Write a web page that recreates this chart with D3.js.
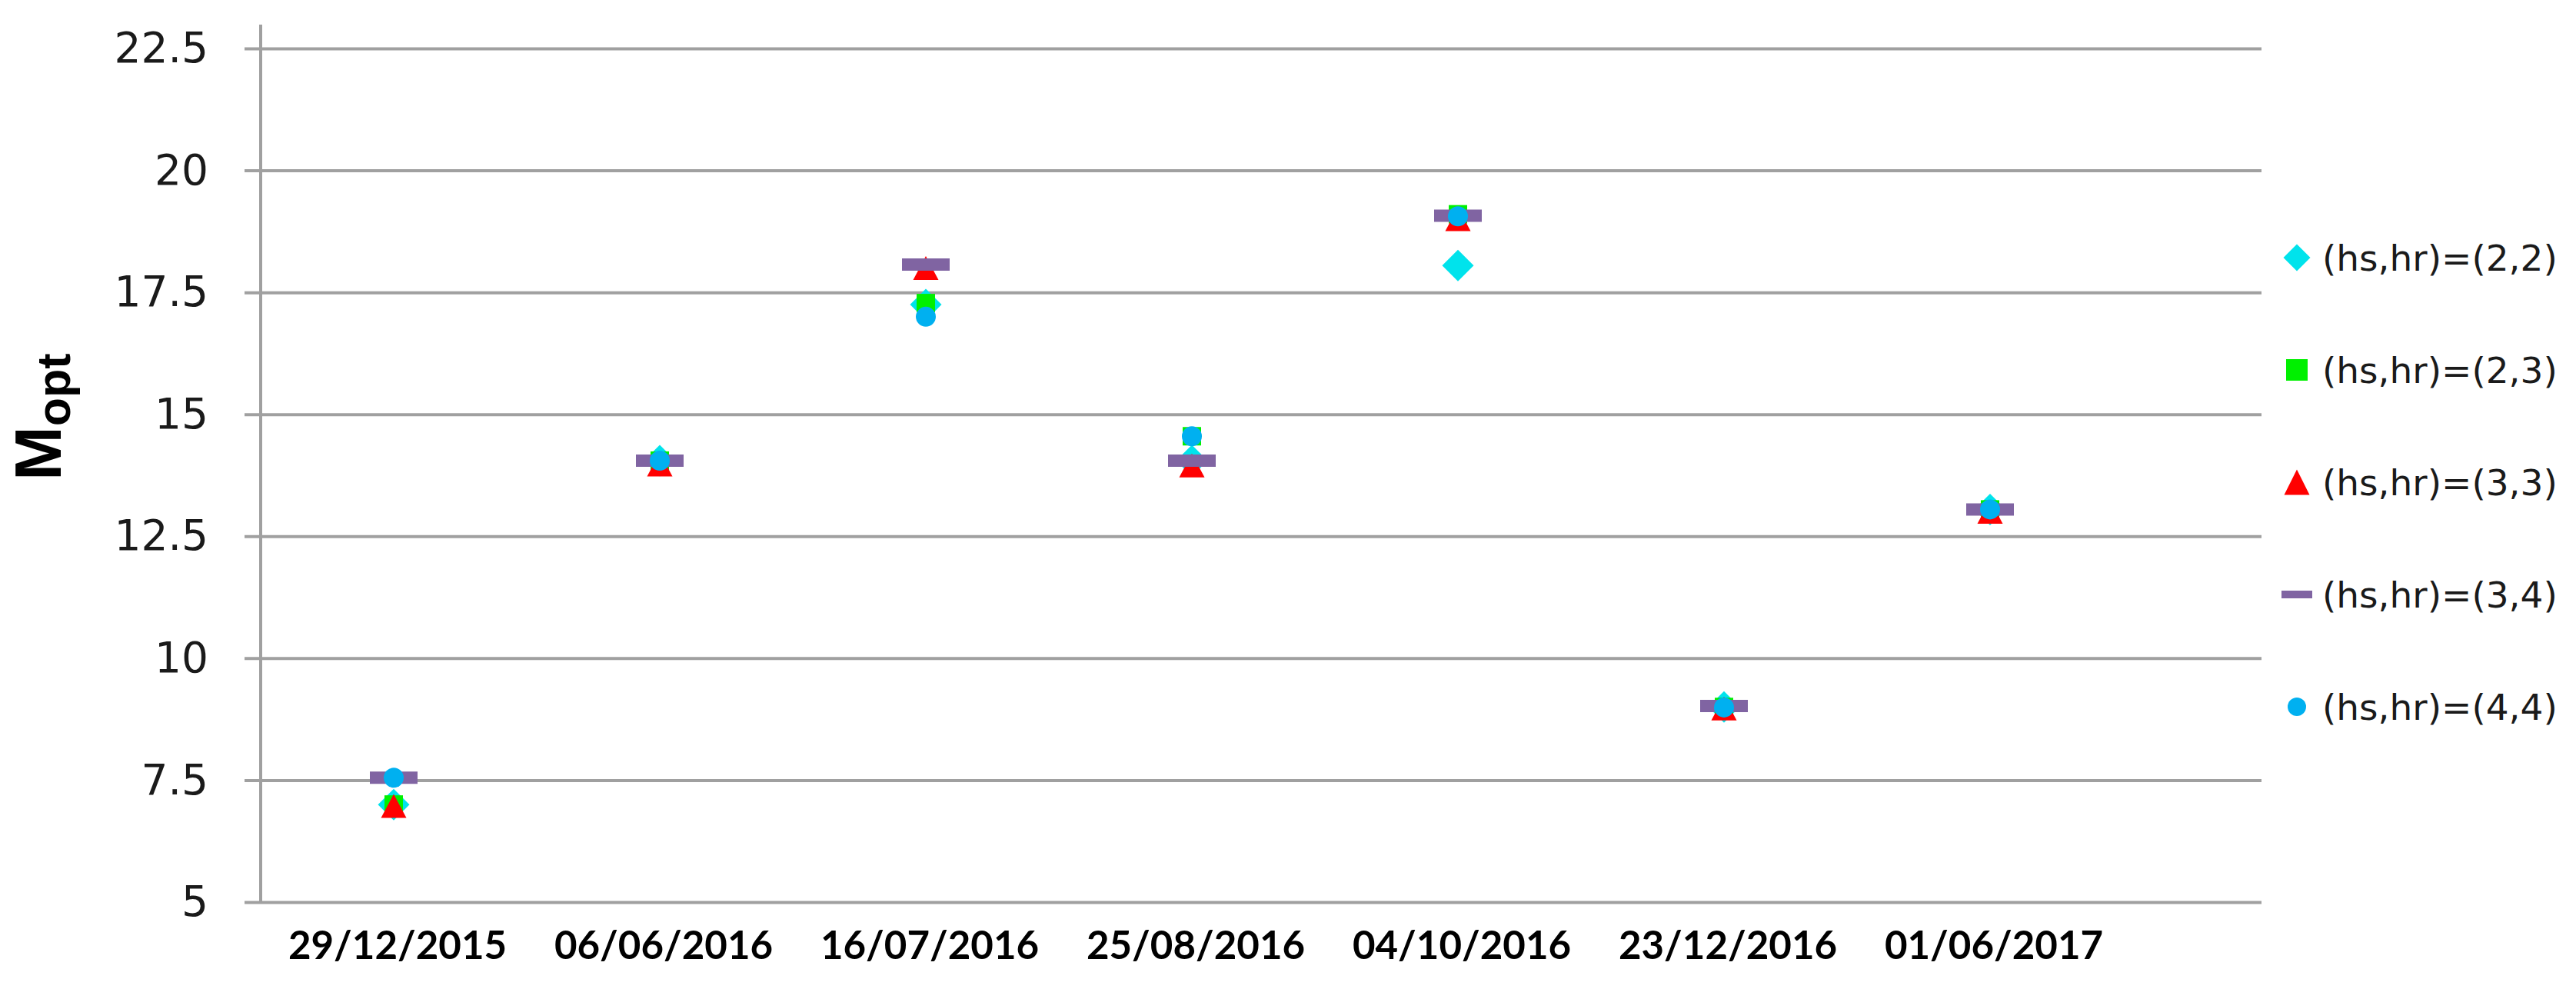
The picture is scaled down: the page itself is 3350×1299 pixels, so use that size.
<!DOCTYPE html>
<html>
<head>
<meta charset="utf-8">
<script src="https://cdn.jsdelivr.net/npm/d3@7"></script>
<style>
	html, body { margin: 0; padding: 0; background: #fff; }
	svg { display: block; }
</style>
</head>
<body>
<div id="chart"></div>
<script>
//data
const dates = ['29/12/2015', '06/06/2016', '16/07/2016', '25/08/2016', '04/10/2016', '23/12/2016', '01/06/2017'];
const yTicks = [5, 7.5, 10, 12.5, 15, 17.5, 20, 22.5];
const seriesNames = ['(hs,hr)=(2,2)', '(hs,hr)=(2,3)', '(hs,hr)=(3,3)', '(hs,hr)=(3,4)', '(hs,hr)=(4,4)'];
const hs2hr2 = [7.0, 14.05, 17.25, 14.05, 18.05, 9.0, 13.05];
const hs2hr3 = [7.0, 14.05, 17.28, 14.55, 19.1, 9.0, 13.05];
const hs3hr3 = [6.97, 13.97, 18.0, 13.95, 19.0, 8.97, 13.0];
const hs3hr4 = [7.55, 14.05, 18.07, 14.05, 19.07, 9.02, 13.05];
const hs4hr4 = [7.55, 14.05, 17.0, 14.55, 19.06, 8.99, 13.05];

const series = [
	{ name: seriesNames[0], values: hs2hr2, shape: 'diamond', color: '#00e3ec' },
	{ name: seriesNames[1], values: hs2hr3, shape: 'square', color: '#00f000' },
	{ name: seriesNames[2], values: hs3hr3, shape: 'triangle', color: '#ff0000' },
	{ name: seriesNames[3], values: hs3hr4, shape: 'dash', color: '#8064a2' },
	{ name: seriesNames[4], values: hs4hr4, shape: 'circle', color: '#00b0f0' },
];

render();

function render() {
	const width = 3350;
	const height = 1299;
	const margin = { left: 339, top: 63, bottom: 1173 };
	const gridRight = 2941;
	const step = 346;

	const svg = d3.select('#chart')
		.append('svg')
		.attr('width', width)
		.attr('height', height);

	svg.append('rect')
		.attr('width', width)
		.attr('height', height)
		.style('fill', '#fff');

	const x = d3.scaleBand()
		.domain(dates)
		.range([margin.left, margin.left + step * dates.length]);

	const y = d3.scaleLinear()
		.domain([5, 22.5])
		.range([margin.bottom, margin.top]);

	//grid + y ticks
	const yAxis = d3.axisLeft(y)
		.tickValues(yTicks)
		.tickSize(-(gridRight - margin.left))
		.tickSizeOuter(0)
		.tickPadding(68)
		.tickFormat(d => d);

	const yG = svg.append('g')
		.attr('transform', translation(margin.left, 0))
		.call(yAxis);
	yG.select('.domain').remove();
	yG.selectAll('.tick line')
		.attr('x1', -21)
		.style('stroke', '#a0a0a0')
		.style('stroke-width', 4);
	yG.selectAll('.tick text')
		.style('font-family', 'DejaVu Sans, Verdana, sans-serif')
		.style('font-size', '55px')
		.style('fill', '#1a1a1a');

	//vertical axis line
	svg.append('line')
		.attr('x1', margin.left)
		.attr('x2', margin.left)
		.attr('y1', 32)
		.attr('y2', margin.bottom)
		.style('stroke', '#a0a0a0')
		.style('stroke-width', 4);

	//x labels
	const xAxis = d3.axisBottom(x).tickSize(0).tickPadding(0);
	const xG = svg.append('g')
		.attr('transform', translation(5, margin.bottom))
		.call(xAxis);
	xG.select('.domain').remove();
	xG.selectAll('.tick text')
		.attr('dy', null)
		.attr('y', 74)
		.style('font-family', 'Lato, sans-serif')
		.style('font-weight', 'bold')
		.style('font-size', '51px')
		.style('fill', '#000');

	//y title
	const title = svg.append('text')
		.attr('transform', 'translate(79, 625) rotate(-90)')
		.style('font-family', 'Liberation Sans, Arial, sans-serif')
		.style('font-weight', 'bold')
		.style('fill', '#000');
	title.append('tspan').style('font-size', '85px').text('M');
	title.append('tspan').attr('dy', 12).style('font-size', '61px').text('opt');

	//markers
	const cx = d => x(d.date) + x.bandwidth() / 2;
	series.forEach(s => {
		const points = s.values.map((v, i) => ({ date: dates[i], value: v }));
		svg.append('g')
			.attr('class', 'series')
			.selectAll('path')
			.data(points)
			.enter()
			.append('path')
			.attr('transform', d => translation(cx(d), y(d.value)))
			.attr('d', markerPath(s.shape, false))
			.style('fill', s.color);
	});

	//legend
	const legend = svg.append('g')
		.selectAll('g')
		.data(series)
		.enter()
		.append('g')
		.attr('transform', (d, i) => translation(2987, 335 + i * 146));

	legend.append('path')
		.attr('d', d => markerPath(d.shape, true))
		.style('fill', d => d.color);

	legend.append('text')
		.attr('x', 33)
		.attr('dy', '0.36em')
		.style('font-family', 'DejaVu Sans, Verdana, sans-serif')
		.style('font-size', '47px')
		.style('fill', '#1a1a1a')
		.text(d => d.name);
}

//shapes
function markerPath(shape, small) {
	const p = d3.path();
	if (shape === 'diamond') {
		const r = small ? 17.5 : 20.5;
		p.moveTo(0, -r); p.lineTo(r, 0); p.lineTo(0, r); p.lineTo(-r, 0); p.closePath();
	} else if (shape === 'square') {
		const s = small ? 28 : 24;
		p.rect(-s / 2, -s / 2, s, s);
	} else if (shape === 'triangle') {
		const w = 33;
		const h = small ? 33 : 31;
		p.moveTo(0, -h / 2); p.lineTo(w / 2, h / 2); p.lineTo(-w / 2, h / 2); p.closePath();
	} else if (shape === 'dash') {
		const w = small ? 40 : 62;
		const h = small ? 10 : 16;
		p.rect(-w / 2, -h / 2, w, h);
	} else {
		const r = small ? 12 : 13;
		p.moveTo(r, 0);
		p.arc(0, 0, r, 0, Math.PI * 2);
	}
	return p.toString();
}

//utils
function translation(x, y) {
	return `translate(${x}, ${y})`;
}
</script>
</body>
</html>
